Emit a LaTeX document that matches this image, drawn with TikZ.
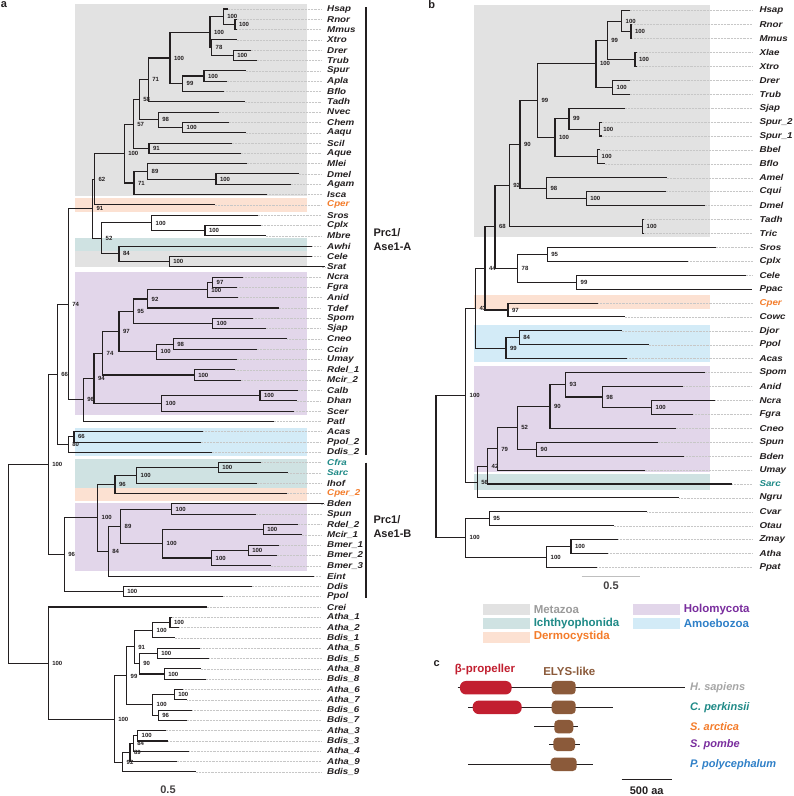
\documentclass[tikz,border=0pt]{standalone}
\usepackage{fontspec}
\setmainfont{Liberation Sans}
\setsansfont{Liberation Sans}
\newfontfamily\leaffont[FakeStretch=1.15]{Liberation Sans}
\usetikzlibrary{calc,positioning}

\definecolor{ink}{HTML}{231F20}
\definecolor{bgmeta}{HTML}{E2E2E2}
\definecolor{bgich}{HTML}{CFE2E2}
\definecolor{bgder}{HTML}{FCE1D2}
\definecolor{bgholo}{HTML}{E2D6EA}
\definecolor{bgamo}{HTML}{D3EBF7}
\definecolor{txmeta}{HTML}{9B9B9B}
\definecolor{txich}{HTML}{1F8A87}
\definecolor{txder}{HTML}{F47C2A}
\definecolor{txholo}{HTML}{7A2E9E}
\definecolor{txamo}{HTML}{2F80C8}
\definecolor{betacol}{HTML}{C21F30}
\definecolor{elyscol}{HTML}{8B5A3A}

\tikzset{
  branch/.style={line width=1.05pt, draw=ink},
  guide/.style={draw=black!22, line width=0.45pt, densely dotted},
  boot/.style={font=\bfseries\fontsize{6}{7}\selectfont, text=ink, anchor=west, inner sep=0.3pt, xshift=3.5pt},
  leaf/.style={font=\leaffont\bfseries\itshape\fontsize{8.5}{9}\selectfont, anchor=west, inner sep=0pt},
  clade/.style={font=\bfseries\fontsize{11}{13.3}\selectfont, text=ink, anchor=west, align=left, inner sep=0pt},
  panel/.style={font=\bfseries\fontsize{11}{12}\selectfont, text=ink, inner sep=0pt},
  lgbox/.style={minimum width=46.7pt, minimum height=11pt, inner sep=0pt},
  lgtext/.style={font=\bfseries\fontsize{11.5}{13}\selectfont, inner sep=0pt, right=3.3pt},
  prot/.style={line width=1pt, draw=ink},
  betadom/.style={fill=betacol, rounded corners=6pt, minimum height=13.5pt, inner sep=0pt},
  elysdom/.style={fill=elyscol, rounded corners=4pt, minimum height=13.5pt, inner sep=0pt},
  spname/.style={font=\bfseries\itshape\fontsize{11}{12}\selectfont, anchor=west, inner sep=0pt},
  domname/.style={font=\bfseries\fontsize{11.5}{13}\selectfont, inner sep=0pt},
  scaletext/.style={font=\bfseries\fontsize{11}{12}\selectfont, text=ink!85, inner sep=0pt}
}

% internal node of a tree: name, x, upper child, lower child, support value
\newcommand{\tnode}[5]{%
  \path ($(#3)!0.5!(#4)$) coordinate (m#1);
  \coordinate (#1) at (#2,0 |- m#1);
  \draw[branch] (#3) -| (#1) |- (#4);
  \node[boot] at (#1) {#5};
}

\begin{document}
\begin{tikzpicture}[x=1pt, y=-1pt]
\useasboundingbox[fill=white] (0,0) rectangle (794,796);

% ---------------- panel a ----------------
\node[panel] (pa) at (4,5) {a};

% group bands
\fill[bgmeta] (75,4) rectangle (307,196);
\fill[bgder] (75,198) rectangle (307,212);
\fill[bgich] (75,237.5) rectangle (307,251);
\fill[bgmeta] (75,251) rectangle (307,267);
\fill[bgholo] (75,272) rectangle (307,415);
\fill[bgamo] (75,427.5) rectangle (307,456);
\fill[bgich] (75,459) rectangle (307,487.5);
\fill[bgder] (75,487.5) rectangle (307,501);
\fill[bgholo] (75,502.5) rectangle (307,571);

% leaves
\foreach \i/\nm/\txt/\tx/\col in {
  1/Hsap/Hsap/228/ink, 2/Rnor/Rnor/236.7/ink, 3/Mmus/Mmus/237.3/ink,
  4/Xtro/Xtro/236.7/ink, 5/Drer/Drer/251/ink, 6/Trub/Trub/256.7/ink,
  7/Spur/Spur/245.7/ink, 8/Apla/Apla/226.7/ink, 9/Bflo/Bflo/224.3/ink,
  10/Tadh/Tadh/245/ink, 11/Nvec/Nvec/218.7/ink, 12/Chem/Chem/229/ink,
  13/Aaqu/Aaqu/246/ink, 14/Scil/Scil/231.7/ink, 15/Aque/Aque/240.7/ink,
  16/Mlei/Mlei/246.7/ink, 17/Dmel/Dmel/299/ink, 18/Agam/Agam/291/ink,
  19/Isca/Isca/267.3/ink, 20/Cper/Cper/215/txder, 21/Sros/Sros/257.7/ink,
  22/Cplx/Cplx/260.7/ink, 23/Mbre/Mbre/265.7/ink, 24/Awhi/Awhi/312.3/ink,
  25/Cele/Cele/312.3/ink, 26/Srat/Srat/325/ink, 27/Ncra/Ncra/243.3/ink,
  28/Fgra/Fgra/237.3/ink, 29/Anid/Anid/238.3/ink, 30/Tdef/Tdef/279/ink,
  31/Spom/Spom/253.3/ink, 32/Sjap/Sjap/266/ink, 33/Cneo/Cneo/287.3/ink,
  34/Ccin/Ccin/256.7/ink, 35/Umay/Umay/236.7/ink, 36/Rdela/Rdel\_1/235.3/ink,
  37/Mcirb/Mcir\_2/240.7/ink, 38/Calb/Calb/297.7/ink, 39/Dhan/Dhan/296.7/ink,
  40/Scer/Scer/294.3/ink, 41/Patl/Patl/274/ink, 42/Acas/Acas/203.3/ink,
  43/Ppolb/Ppol\_2/201/ink, 44/Ddisb/Ddis\_2/211.7/ink, 45/Cfra/Cfra/261/txich,
  46/Sarc/Sarc/288.3/txich, 47/Ihof/Ihof/256.7/ink, 48/Cperb/Cper\_2/286.7/txder,
  49/Bden/Bden/324/ink, 50/Spun/Spun/255.7/ink, 51/Rdelb/Rdel\_2/297.7/ink,
  52/Mcira/Mcir\_1/301.7/ink, 53/Bmera/Bmer\_1/279/ink, 54/Bmerb/Bmer\_2/276.7/ink,
  55/Bmerc/Bmer\_3/270.7/ink, 56/Eint/Eint/314.3/ink, 57/Ddis/Ddis/251.7/ink,
  58/Ppol/Ppol/222.7/ink, 59/Crei/Crei/206.7/ink, 60/Athaa/Atha\_1/171.7/ink,
  61/Athab/Atha\_2/179.3/ink, 62/Bdisa/Bdis\_1/175/ink, 63/Athae/Atha\_5/200/ink,
  64/Bdise/Bdis\_5/209.3/ink, 65/Athah/Atha\_8/200.7/ink, 66/Bdish/Bdis\_8/206/ink,
  67/Athaf/Atha\_6/183.3/ink, 68/Athag/Atha\_7/187.3/ink, 69/Bdisf/Bdis\_6/192.3/ink,
  70/Bdisg/Bdis\_7/186.7/ink, 71/Athac/Atha\_3/165.7/ink, 72/Bdisc/Bdis\_3/168.3/ink,
  73/Athad/Atha\_4/189.3/ink, 74/Athai/Atha\_9/176.7/ink, 75/Bdisi/Bdis\_9/196/ink}{
  \node[leaf, text=\col] (la\nm) at (327, {9+(\i-1)*10.31}) {\txt};
  \coordinate (a\nm) at (\tx, {9+(\i-1)*10.31});
  \draw[guide] (a\nm) -- ([xshift=-6pt]la\nm.west);
}

% Metazoa and relatives
\tnode{aRM}{235}{aRnor}{aMmus}{100}
\tnode{aHRM}{223.3}{aHsap}{aRM}{100}
\tnode{aDT}{233.3}{aDrer}{aTrub}{100}
\tnode{aXDT}{211.7}{aXtro}{aDT}{78}
\tnode{aVert}{210}{aHRM}{aXDT}{100}
\tnode{aSA}{204}{aSpur}{aApla}{100}
\tnode{aEch}{182.7}{aSA}{aBflo}{99}
\tnode{aDeut}{170}{aVert}{aEch}{100}
\tnode{aBil}{148.3}{aDeut}{aTadh}{71}
\tnode{aCA}{182.7}{aChem}{aAaqu}{100}
\tnode{aCnid}{158.3}{aNvec}{aCA}{98}
\tnode{aP58}{139.3}{aBil}{aCnid}{58}
\tnode{aSpo}{149}{aScil}{aAque}{91}
\tnode{aP57}{133.3}{aP58}{aSpo}{57}
\tnode{aDA}{216}{aDmel}{aAgam}{100}
\tnode{aCte}{147.7}{aMlei}{aDA}{89}
\tnode{aP71}{134}{aCte}{aIsca}{71}
\tnode{aMet}{124.3}{aP57}{aP71}{100}
\tnode{aP62}{94.5}{aMet}{aCper}{62}
\tnode{aCM}{205}{aCplx}{aMbre}{100}
\tnode{aCho}{151.7}{aSros}{aCM}{100}
\tnode{aCS}{169.3}{aCele}{aSrat}{100}
\tnode{aP84}{119}{aAwhi}{aCS}{84}
\tnode{aP52}{101.7}{aCho}{aP84}{52}
\tnode{aP91}{92.5}{aP62}{aP52}{91}
% Holomycota A
\tnode{aNF}{212.7}{aNcra}{aFgra}{97}
\tnode{aNFA}{207.3}{aNF}{aAnid}{100}
\tnode{aP92}{147.7}{aNFA}{aTdef}{92}
\tnode{aSS}{212.7}{aSpom}{aSjap}{100}
\tnode{aP95}{133.3}{aP92}{aSS}{95}
\tnode{aCC}{173.3}{aCneo}{aCcin}{98}
\tnode{aBas}{156.7}{aCC}{aUmay}{100}
\tnode{aP97}{119}{aP95}{aBas}{97}
\tnode{aMuc}{194.3}{aRdela}{aMcirb}{100}
\tnode{aP74f}{102.7}{aP97}{aMuc}{74}
\tnode{aCD}{260}{aCalb}{aDhan}{100}
\tnode{aSac}{161.7}{aCD}{aScer}{100}
\tnode{aP94}{94}{aP74f}{aSac}{94}
\tnode{aP96h}{83.3}{aP94}{aPatl}{96}
\tnode{aP74}{68.3}{aP91}{aP96h}{74}
% Amoebozoa
\tnode{aAP}{74}{aAcas}{aPpolb}{66}
\tnode{aP80}{68.3}{aAP}{aDdisb}{80}
\tnode{aP66}{57.3}{aP74}{aP80}{66}
% Prc1/Ase1-B
\tnode{aCS2}{218.3}{aCfra}{aSarc}{100}
\tnode{aIch}{136.7}{aCS2}{aIhof}{100}
\tnode{aP96i}{115}{aIch}{aCperb}{96}
\tnode{aBS}{171.7}{aBden}{aSpun}{100}
\tnode{aRM2}{263.3}{aRdelb}{aMcira}{100}
\tnode{aBm12}{248.3}{aBmera}{aBmerb}{100}
\tnode{aBm}{211.7}{aBm12}{aBmerc}{100}
\tnode{aP100f}{162.7}{aRM2}{aBm}{100}
\tnode{aP89f}{120.7}{aBS}{aP100f}{89}
\tnode{aP84f}{108.3}{aP89f}{aEint}{84}
\tnode{aP100b}{97.7}{aP96i}{aP84f}{100}
\tnode{aDP}{123.3}{aDdis}{aPpol}{100}
\tnode{aP96b}{64.3}{aP100b}{aDP}{96}
\tnode{aP100a}{48.3}{aP66}{aP96b}{100}
% plants
\tnode{aA12}{170}{aAthaa}{aAthab}{100}
\tnode{aA12B}{152.7}{aA12}{aBdisa}{100}
\tnode{aAB5}{157.3}{aAthae}{aBdise}{100}
\tnode{aAB8}{164.3}{aAthah}{aBdish}{100}
\tnode{aP90}{139.3}{aAB5}{aAB8}{90}
\tnode{aP91p}{134.3}{aA12B}{aP90}{91}
\tnode{aA67}{174.3}{aAthaf}{aAthag}{100}
\tnode{aB67}{158.3}{aBdisf}{aBdisg}{96}
\tnode{aP100p}{152.7}{aA67}{aB67}{100}
\tnode{aP99p}{126.7}{aP91p}{aP100p}{99}
\tnode{aAB3}{137.7}{aAthac}{aBdisc}{100}
\tnode{aP84p}{133.3}{aAB3}{aAthad}{84}
\tnode{aP89p}{130}{aP84p}{aAthai}{89}
\tnode{aP92p}{122.7}{aP89p}{aBdisi}{92}
\tnode{aLand}{114.3}{aP99p}{aP92p}{100}
\tnode{aPl}{48.3}{aCrei}{aLand}{100}
\tnode{aRoot}{8.3}{aP100a}{aPl}{}

% clade brackets
\draw[line width=1.3pt, ink] (366,7) -- (366,455);
\draw[line width=1.3pt, ink] (366,462.7) -- (366,598);
\node[clade] (cladeA) at (373.3,239.5) {Prc1/\\Ase1-A};
\node[clade] (cladeB) at (373.3,526.7) {Prc1/\\Ase1-B};

\node[scaletext] (sa) at (168,790) {0.5};

% ---------------- panel b ----------------
\node[panel] (pb) at (431.7,5) {b};

\fill[bgmeta] (474,5) rectangle (710,237);
\fill[bgder] (474,295) rectangle (710,309);
\fill[bgamo] (474,325) rectangle (710,362.3);
\fill[bgholo] (474,365.7) rectangle (710,471.7);
\fill[bgich] (474,474) rectangle (710,490);

\foreach \i/\nm/\txt/\tx/\col in {
  1/Hsap/Hsap/630/ink, 2/Rnor/Rnor/632.3/ink, 3/Mmus/Mmus/632.3/ink,
  4/Xlae/Xlae/637.3/ink, 5/Xtro/Xtro/637.3/ink, 6/Drer/Drer/630/ink,
  7/Trub/Trub/630/ink, 8/Sjap/Sjap/625/ink, 9/Spura/Spur\_2/602/ink,
  10/Spurb/Spur\_1/602/ink, 11/Bbel/Bbel/600/ink, 12/Bflo/Bflo/605/ink,
  13/Amel/Amel/666.7/ink, 14/Cqui/Cqui/666/ink, 15/Dmel/Dmel/705/ink,
  16/Tadh/Tadh/644/ink, 17/Tric/Tric/644/ink, 18/Sros/Sros/716/ink,
  19/Cplx/Cplx/688.3/ink, 20/Cele/Cele/745.7/ink, 21/Ppac/Ppac/752.3/ink,
  22/Cper/Cper/598.3/txder, 23/Cowc/Cowc/625/ink, 24/Djor/Djor/621.7/ink,
  25/Ppol/Ppol/649/ink, 26/Acas/Acas/627.3/ink, 27/Spom/Spom/705/ink,
  28/Anid/Anid/682.7/ink, 29/Ncra/Ncra/715.3/ink, 30/Fgra/Fgra/693.3/ink,
  31/Cneo/Cneo/675.7/ink, 32/Spun/Spun/657.7/ink, 33/Bden/Bden/684.3/ink,
  34/Umay/Umay/645/ink, 35/Sarc/Sarc/732.3/txich, 36/Ngru/Ngru/679.3/ink,
  37/Cvar/Cvar/647.3/ink, 38/Otau/Otau/614/ink, 39/Zmay/Zmay/618.3/ink,
  40/Atha/Atha/608.3/ink, 41/Ppat/Ppat/597.3/ink}{
  \node[leaf, text=\col] (lb\nm) at (759.3, {10.7+(\i-1)*13.92}) {\txt};
  \coordinate (b\nm) at (\tx, {10.7+(\i-1)*13.92});
  \draw[guide] (b\nm) -- ([xshift=-7pt]lb\nm.west);
}

\tnode{bRM}{631}{bRnor}{bMmus}{100}
\tnode{bH}{621.7}{bHsap}{bRM}{100}
\tnode{bXX}{635}{bXlae}{bXtro}{100}
\tnode{bV99}{607.3}{bH}{bXX}{99}
\tnode{bDT}{612.7}{bDrer}{bTrub}{100}
\tnode{bV100}{596}{bV99}{bDT}{100}
\tnode{bSp}{599.3}{bSpura}{bSpurb}{100}
\tnode{bS99}{569}{bSjap}{bSp}{99}
\tnode{bBB}{597.7}{bBbel}{bBflo}{100}
\tnode{bD100}{555}{bS99}{bBB}{100}
\tnode{bD99}{537.5}{bV100}{bD100}{99}
\tnode{bCD}{586.3}{bCqui}{bDmel}{100}
\tnode{bP98}{546.5}{bAmel}{bCD}{98}
\tnode{bP90}{520}{bD99}{bP98}{90}
\tnode{bTT}{642.7}{bTadh}{bTric}{100}
\tnode{bP92}{509.3}{bP90}{bTT}{92}
\tnode{bSC}{547.3}{bSros}{bCplx}{95}
\tnode{bCP}{576.7}{bCele}{bPpac}{99}
\tnode{bP78}{517.7}{bSC}{bCP}{78}
\tnode{bP68}{495}{bP92}{bP78}{68}
\tnode{bP97}{508}{bCper}{bCowc}{97}
\tnode{bP44}{485}{bP68}{bP97}{44}
\tnode{bDP}{519.3}{bDjor}{bPpol}{84}
\tnode{bAm}{506}{bDP}{bAcas}{99}
\tnode{bP43}{475.5}{bP44}{bAm}{43}
\tnode{bNF}{651.7}{bNcra}{bFgra}{100}
\tnode{bP98f}{602.3}{bAnid}{bNF}{98}
\tnode{bP93}{565.7}{bSpom}{bP98f}{93}
\tnode{bP90f}{550}{bP93}{bCneo}{90}
\tnode{bSB}{536.7}{bSpun}{bBden}{90}
\tnode{bP52}{517.3}{bP90f}{bSB}{52}
\tnode{bP79}{497.3}{bP52}{bUmay}{79}
\tnode{bP42}{487.7}{bP79}{bSarc}{42}
\tnode{bP56}{477.3}{bP42}{bNgru}{56}
\tnode{bP100}{465.7}{bP43}{bP56}{100}
\tnode{bCO}{489.3}{bCvar}{bOtau}{95}
\tnode{bZA}{571}{bZmay}{bAtha}{100}
\tnode{bL}{546.7}{bZA}{bPpat}{100}
\tnode{bPl}{465.7}{bCO}{bL}{100}
\tnode{bRoot}{436}{bP100}{bPl}{}

\draw[line width=0.8pt, draw=black!25] (581.7,576.7) -- (640,576.7);
\node[scaletext] (sb) at (611,586) {0.5};

% legend
\node[lgbox, fill=bgmeta] (kMet) at (506.7,609.5) {};
\node[lgtext, text=txmeta, right=3.3pt of kMet] (tMet) {Metazoa};
\node[lgbox, fill=bgich] (kIch) at (506.7,623.7) {};
\node[lgtext, text=txich, right=3.3pt of kIch] (tIch) {Ichthyophonida};
\node[lgbox, fill=bgder] (kDer) at (506.7,637) {};
\node[lgtext, text=txder, right=3.3pt of kDer] (tDer) {Dermocystida};
\node[lgbox, fill=bgholo] (kHol) at (656.7,609.5) {};
\node[lgtext, text=txholo, right=3.3pt of kHol] (tHol) {Holomycota};
\node[lgbox, fill=bgamo] (kAmo) at (656.7,623.7) {};
\node[lgtext, text=txamo, right=3.3pt of kAmo] (tAmo) {Amoebozoa};

% ---------------- panel c ----------------
\node[panel] (pc) at (436.7,663.3) {c};
\node[domname, text=betacol] (hBeta) at (485,670) {β-propeller};
\node[domname, text=elyscol] (hElys) at (569.3,671) {ELYS-like};

\coordinate (hsA) at (457.7,687.7);  \coordinate (hsB) at (685,687.7);
\coordinate (cpA) at (468.3,707.3);  \coordinate (cpB) at (612.7,707.3);
\coordinate (saA) at (534.3,726.7);  \coordinate (saB) at (577.7,726.7);
\coordinate (spA) at (549.3,744.3);  \coordinate (spB) at (580,744.3);
\coordinate (ppA) at (468.3,764.3);  \coordinate (ppB) at (593.3,764.3);
\draw[prot] (hsA) -- (hsB);
\draw[prot] (cpA) -- (cpB);
\draw[prot] (saA) -- (saB);
\draw[prot] (spA) -- (spB);
\draw[prot] (ppA) -- (ppB);

\node[betadom, minimum width=51.7pt] (hsBeta) at (485.8,687.7) {};
\node[elysdom, minimum width=24pt] (hsElys) at (563.7,687.7) {};
\node[betadom, minimum width=49pt] (cpBeta) at (497.2,707.3) {};
\node[elysdom, minimum width=24pt] (cpElys) at (563.7,707.3) {};
\node[elysdom, minimum width=19pt] (saElys) at (563.8,726.7) {};
\node[elysdom, minimum width=21.7pt] (spElys) at (564.2,744.3) {};
\node[elysdom, minimum width=26pt] (ppElys) at (563.7,764.3) {};

\node[spname, text=black!35] (hsName) at (690,687.7) {H.\ sapiens};
\node[spname, text=txich] (cpName) at (690,707.3) {C.\ perkinsii};
\node[spname, text=txder] (saName) at (690,726.7) {S.\ arctica};
\node[spname, text=txholo] (spName) at (690,744.3) {S.\ pombe};
\node[spname, text=txamo] (ppName) at (690,764.3) {P.\ polycephalum};

\coordinate (barA) at (621.7,779.3);
\coordinate (barB) at (671.7,779.3);
\draw[line width=1.3pt, ink] (barA) -- (barB);
\node[scaletext, text=ink] (barT) at (646.7,790.5) {500 aa};
\end{tikzpicture}
\end{document}
